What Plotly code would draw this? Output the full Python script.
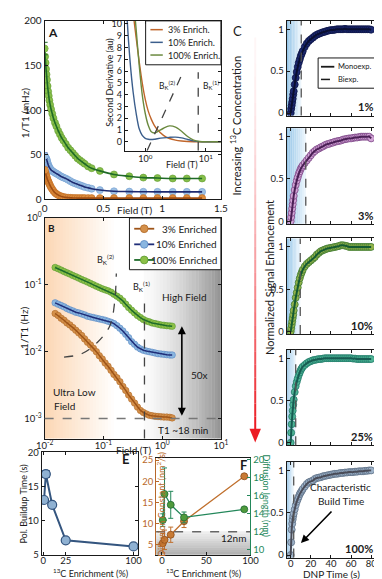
import plotly.graph_objects as go

W, H = 382, 579
FONT = "Lato"
INK = "#1a1a1a"

# ---------------- data ----------------
# A: relaxation rate (mHz) vs field (T)
a_field = [0, 0.004, 0.008, 0.012, 0.016, 0.02, 0.025, 0.03, 0.035, 0.04, 0.047, 0.055,
           0.065, 0.075, 0.088, 0.1, 0.115, 0.13, 0.145, 0.16, 0.18, 0.2, 0.22, 0.24, 0.26,
           0.28, 0.3, 0.32, 0.34, 0.37, 0.4, 0.47, 0.59, 0.72, 0.84, 0.96, 1.09, 1.21, 1.34]
a_rate_100 = [169, 160, 153, 146, 140, 134, 127, 121, 116, 111, 106, 101, 96, 91, 86,
              82, 77, 73, 69, 66, 62, 58, 55, 52, 49, 46, 44, 42, 40, 37, 35, 32, 28, 26,
              24.5, 24, 23.5, 23.5, 23.5]
a_rate_10 = [49, 48, 47, 46, 45, 43.5, 41, 39, 37, 36, 34.5, 33, 32, 31, 30, 29, 28, 26.5,
             25.5, 24.5, 23.5, 22, 20.5, 19, 18, 17, 16, 15, 14, 13, 12, 10.5, 9.2, 8.8, 8.6,
             8.5, 8.5, 8.5, 8.5]
a_rate_3 = [33, 31, 29, 27.5, 25.5, 24, 22, 20.5, 19, 17.5, 15.5, 13.5, 11.5, 9.5, 7.5, 6.2,
            5, 4, 3.3, 2.8, 2.3, 2, 1.8, 1.7, 1.6, 1.5, 1.5, 1.5, 1.5, 1.5, 1.5, 1.5, 1.5,
            1.5, 1.5, 1.5, 1.5, 1.5, 1.5]
a_first_err = [7, 3, 3]  # 100%, 10%, 3%

# A inset: second derivative (au) vs field (T)
inset_field = [0.457, 0.501, 0.562, 0.631, 0.708, 0.794, 0.891, 1.0, 1.12, 1.26, 1.41, 1.58,
               2.0, 2.51, 3.16, 3.98, 5.01, 6.31, 7.94, 10.0, 12.6, 17.8]
inset_d2_3 = [25, 19, 14.5, 11, 8.8, 6.8, 5.0, 3.6, 2.6, 1.9, 1.4, 1.05, 0.55, 0.28, 0.14,
              0.07, 0.03, 0.01, 0, 0, 0, 0]
inset_d2_10 = [15, 10.5, 6.8, 4.2, 2.4, 1.1, 0.55, 0.3, 0.22, 0.2, 0.22, 0.26, 0.33, 0.38,
               0.4, 0.33, 0.2, 0.08, 0.02, 0, 0, 0]
inset_d2_100 = [30, 24, 17, 12.5, 9.5, 6.5, 4.0, 2.4, 1.4, 0.85, 0.75, 0.85, 1.15, 1.35,
                1.25, 0.9, 0.45, 0.15, 0.03, 0, 0, 0]

# B: relaxation rate (Hz) vs field (T), log-log
b_field = [0.0151, 0.0170, 0.0191, 0.0214, 0.0240, 0.0269, 0.0302, 0.0339, 0.0380, 0.0427,
           0.0479, 0.0537, 0.0603, 0.0676, 0.0759, 0.0851, 0.0955, 0.107, 0.120, 0.135,
           0.151, 0.170, 0.191, 0.214, 0.240, 0.269, 0.302, 0.339, 0.380, 0.427,
           0.479, 0.537, 0.603, 0.676, 0.759, 0.851, 0.955, 1.07, 1.20, 1.35, 1.48]
b_rate_100 = [0.182, 0.174, 0.166, 0.158, 0.151, 0.145, 0.138, 0.132, 0.126, 0.120,
              0.115, 0.110, 0.105, 0.100, 0.0955, 0.0912, 0.0871, 0.0841, 0.0813, 0.0776,
              0.0724, 0.0676, 0.0631, 0.0575, 0.0513, 0.0457, 0.0417, 0.0380, 0.0347, 0.0324,
              0.0302, 0.0288, 0.0279, 0.0269, 0.0263, 0.0257, 0.0251, 0.0248, 0.0245, 0.0243,
              0.0240]
b_rate_10 = [0.0537, 0.0513, 0.0490, 0.0468, 0.0442, 0.0422, 0.0407, 0.0389, 0.0380, 0.0367,
             0.0355, 0.0339, 0.0331, 0.0324, 0.0316, 0.0309, 0.0302, 0.0295, 0.0285, 0.0275,
             0.0263, 0.0245, 0.0224, 0.0204, 0.0182, 0.0162, 0.0141, 0.0129, 0.0117, 0.0110,
             0.0105, 0.0102, 0.0100, 0.00977, 0.00955, 0.00933, 0.00923, 0.00912, 0.00902,
             0.00891, 0.00891]
b_rate_3 = [0.0372, 0.0347, 0.0316, 0.0295, 0.0269, 0.0251, 0.0229, 0.0209, 0.0191, 0.0174,
            0.0155, 0.0138, 0.0126, 0.0112, 0.0100, 0.00871, 0.00776, 0.00676, 0.00603, 0.00525,
            0.00457, 0.00407, 0.00355, 0.00302, 0.00263, 0.00224, 0.00195, 0.00170, 0.00148,
            0.00132, 0.00123, 0.00117, 0.00112, 0.00110, 0.00108, 0.00107, 0.00106, 0.00105,
            0.00105, 0.00104, 0.00102]
bk2_field = [0.0214, 0.0427, 0.0794, 0.129, 0.155, 0.166]
bk2_rate = [0.0083, 0.0093, 0.0138, 0.0245, 0.0537, 0.148]
bk1_field = 0.5
t1_floor = 0.001

# E: polarization buildup time
enrich = [1, 3, 10, 25, 100]
buildup_time = [13.0, 16.8, 12.3, 7.1, 6.2]
buildup_err = [0.3, 0.5, 0.3, 0.3, 0.3]

# F: diffusion constant / length
f_enrich = [1, 3, 10, 25, 93]
diff_const = [5.4, 6.2, 7.4, 10.6, 21.2]
diff_const_err = [2.3, 2.3, 1.8, 1.5, 0]
diff_len = [13.3, 16.2, 15.0, 13.6, 14.5]
diff_len_err = [0.7, 2.9, 1.5, 0.6, 0]
diff_len_limit = 12

# C: normalized DNP buildup curves
c_time = [0, 0.5, 1, 1.5, 2, 2.5, 3, 4, 5, 6, 7, 8, 9, 10, 11, 12, 14, 16, 18, 20, 22, 24,
          26, 28, 30, 32, 34, 36, 38, 40, 42, 44, 46, 48, 50, 52, 54, 56, 58, 60, 62, 64, 66,
          68, 70, 72, 74, 76, 78, 80]
c_signal_1 = [0, 0.05, 0.09, 0.13, 0.17, 0.22, 0.26, 0.34, 0.42, 0.49, 0.55, 0.6, 0.64, 0.68,
              0.71, 0.74, 0.79, 0.83, 0.86, 0.88, 0.9, 0.92, 0.935, 0.945, 0.955, 0.965, 0.97,
              0.98, 0.985, 0.99, 0.99, 0.995, 1.0, 1.0, 1.0, 1.0, 1.005, 1.0, 1.0, 1.0, 1.0,
              1.0, 1.0, 1.0, 1.0, 1.0, 1.0, 1.0, 1.0, 0.995]
c_signal_3 = [0, 0.05, 0.1, 0.15, 0.2, 0.25, 0.3, 0.37, 0.43, 0.48, 0.52, 0.56, 0.59, 0.62,
              0.64, 0.66, 0.69, 0.72, 0.75, 0.78, 0.81, 0.83, 0.85, 0.86, 0.875, 0.885, 0.9,
              0.91, 0.915, 0.925, 0.93, 0.94, 0.945, 0.95, 0.955, 0.965, 0.97, 0.975, 0.98,
              0.98, 0.985, 0.99, 0.99, 0.995, 1.0, 1.0, 1.0, 1.0, 1.0, 0.98]
c_signal_10 = [0, 0.04, 0.08, 0.12, 0.16, 0.2, 0.25, 0.32, 0.4, 0.46, 0.52, 0.58, 0.63, 0.67,
               0.7, 0.73, 0.77, 0.8, 0.82, 0.84, 0.86, 0.88, 0.91, 0.93, 0.95, 0.96, 0.97,
               0.98, 0.985, 0.99, 0.995, 1.0, 1.005, 1.01, 1.02, 1.02, 1.015, 1.01, 1.0, 1.0,
               1.0, 1.0, 1.0, 1.0, 1.0, 1.0, 1.0, 1.0, 1.0, 1.0]
c_signal_25 = [0, 0.12, 0.22, 0.31, 0.38, 0.45, 0.51, 0.6, 0.67, 0.72, 0.76, 0.8, 0.83, 0.86,
               0.88, 0.9, 0.92, 0.94, 0.955, 0.965, 0.975, 0.98, 0.985, 0.99, 0.99, 0.995,
               1.0, 1.0, 1.0, 1.0, 1.0, 1.0, 1.0, 1.0, 1.0, 1.0, 1.0, 1.0, 1.0, 1.0, 0.995,
               0.995, 0.99, 0.99, 0.99, 0.99, 0.99, 0.99, 0.99, 0.99]
c_signal_100 = [0, 0.15, 0.3, 0.37, 0.42, 0.46, 0.49, 0.54, 0.59, 0.63, 0.66, 0.69, 0.72,
                0.74, 0.76, 0.78, 0.81, 0.84, 0.86, 0.87, 0.88, 0.9, 0.91, 0.915, 0.92, 0.93,
                0.935, 0.94, 0.945, 0.95, 0.955, 0.96, 0.96, 0.965, 0.97, 0.97, 0.975, 0.975,
                0.98, 0.98, 0.98, 0.985, 0.985, 0.99, 0.99, 0.99, 0.995, 0.995, 1.0, 1.0]
c_labels = ["1%", "3%", "10%", "25%", "100%"]
c_build_mark = [10.5, 15.0, 9.5, 5.0, 3.0]

# ---------------- layout helpers (pixel boxes) ----------------
A_X, A_Y = (29, 214), (5, 188)
IN_X, IN_Y = (113, 214), (5, 138)
B_X, B_Y = (29, 214), (207, 433)
E_X, E_Y = (26, 127), (447, 552)
F_X, F_Y = (146, 245), (453, 552)
C_X = (283, 378)
C_Y = [(5, 102), (115, 213), (228, 326), (342, 440), (457, 555)]

ORANGE_AX = "#b8682a"
GREEN_AX = "#23875a"


def dx(b):
    return [b[0] / W, b[1] / W]


def dy(b):
    return [1 - b[1] / H, 1 - b[0] / H]


def px(x):
    return x / W


def py(y):
    return 1 - y / H


def ax(size=10, **kw):
    d = dict(showline=True, linecolor=INK, linewidth=1, mirror="ticks", ticks="inside",
             ticklen=3, tickcolor=INK, showgrid=False, zeroline=False,
             tickfont=dict(size=size, color=INK, family=FONT))
    d.update(kw)
    return d


def sup10(e):
    return f"10<sup>{e}</sup>"


fig = go.Figure()

# ---- panel A ----
a_sets = [(a_rate_100, "#86bf4a", "#5f9a2e", "#1f6a26", a_first_err[0]),
          (a_rate_10, "#9dc0e4", "#6f9cd0", "#1d2a70", a_first_err[1]),
          (a_rate_3, "#dd8e3e", "#c06a22", "#a04d12", a_first_err[2])]
for ys, fill, edge, ln, err in a_sets:
    fig.add_trace(go.Scatter(x=a_field, y=ys, mode="markers", xaxis="x", yaxis="y",
                             marker=dict(size=7, color=fill, line=dict(width=0.6, color=edge))))
    fig.add_trace(go.Scatter(x=a_field, y=ys, mode="lines", xaxis="x", yaxis="y",
                             line=dict(color=ln, width=1.6, shape="spline")))
    fig.add_trace(go.Scatter(x=a_field[:1], y=ys[:1], mode="markers", xaxis="x", yaxis="y",
                             marker=dict(size=7, color=fill),
                             error_y=dict(type="data", array=[err], color=ln, width=3, thickness=1)))

# ---- inset ----
in_sets = [(inset_d2_3, "#c0652a"), (inset_d2_10, "#3b5e8c"), (inset_d2_100, "#6b8a3f")]
for ys, c in in_sets:
    fig.add_trace(go.Scatter(x=inset_field, y=ys, mode="lines", xaxis="x2", yaxis="y2",
                             line=dict(color=c, width=1.4, shape="spline", smoothing=0.8)))

# ---- panel B ----
b_sets = [(b_rate_3, "#d4904a", "#b06a28", "#9e5418"),
          (b_rate_10, "#8ab6e0", "#5b88c2", "#1f2d78"),
          (b_rate_100, "#8cc048", "#5a9a30", "#1d6b2a")]
for ys, fill, edge, ln in b_sets:
    fig.add_trace(go.Scatter(x=b_field, y=ys, mode="markers", xaxis="x3", yaxis="y3",
                             marker=dict(size=6.5, color=fill, line=dict(width=0.6, color=edge))))
    fig.add_trace(go.Scatter(x=b_field, y=ys, mode="lines", xaxis="x3", yaxis="y3",
                             line=dict(color=ln, width=1.5)))
fig.add_trace(go.Scatter(x=bk2_field, y=bk2_rate, mode="lines", xaxis="x3", yaxis="y3",
                         line=dict(color="#444", width=1.3, dash="dash", shape="spline")))

# ---- panel E ----
fig.add_trace(go.Scatter(x=enrich, y=buildup_time, mode="lines+markers", xaxis="x4", yaxis="y4",
                         line=dict(color="#34557f", width=2),
                         marker=dict(size=9, color="#8fb1d2", line=dict(width=1.2, color="#34557f")),
                         error_y=dict(type="data", array=buildup_err, color="#34557f",
                                      width=4, thickness=1)))

# ---- panel F ----
fig.add_trace(go.Scatter(x=f_enrich, y=diff_const, mode="lines+markers", xaxis="x5", yaxis="y5",
                         line=dict(color="#c0702e", width=1.3),
                         marker=dict(size=7, color="#c87a34", line=dict(width=0.8, color="#8a4a18")),
                         error_y=dict(type="data", array=diff_const_err, color="#c0702e",
                                      width=2.5, thickness=1)))
fig.add_trace(go.Scatter(x=f_enrich, y=diff_len, mode="lines+markers", xaxis="x5", yaxis="y11",
                         line=dict(color=GREEN_AX, width=1.3),
                         marker=dict(size=7, color="#4f9a3c", line=dict(width=0.8, color="#1f6a34")),
                         error_y=dict(type="data", array=diff_len_err, color=GREEN_AX,
                                      width=2.5, thickness=1)))

# ---- panel C ----
c_series = [c_signal_1, c_signal_3, c_signal_10, c_signal_25, c_signal_100]
c_styles = [("#1c2970", "#0c1445", "#0a0f30"),
            ("#d2a4d6", "#7a4484", "#4a1f55"),
            ("#92b24a", "#3d7a34", "#145a32"),
            ("#4fb496", "#1f7a68", "#175c52"),
            ("#9db2c9", "#5d6e84", "#4a4c58")]
for i, ys in enumerate(c_series):
    fill, edge, ln = c_styles[i]
    xa, ya = f"x{6 + i}", f"y{6 + i}"
    fig.add_trace(go.Scatter(x=c_time, y=ys, mode="markers", xaxis=xa, yaxis=ya,
                             marker=dict(size=7, color=fill, line=dict(width=0.8, color=edge))))
    fig.add_trace(go.Scatter(x=c_time, y=ys, mode="lines", xaxis=xa, yaxis=ya,
                             line=dict(color=ln, width=2, shape="spline")))

# ---------------- axes ----------------
layout = dict(
    xaxis=ax(domain=dx(A_X), anchor="y", range=[0, 1.5], tickvals=[0, 0.5, 1, 1.5],
             ticktext=["0", "0.5", "1", "1.5"]),
    yaxis=ax(domain=dy(A_Y), anchor="x", range=[0, 200], tickvals=[0, 50, 100, 150, 200]),
    xaxis2=ax(9, domain=dx(IN_X), anchor="y2", type="log", range=[-0.34, 1.25],
              tickvals=[1, 10], ticktext=[sup10(0), sup10(1)]),
    yaxis2=ax(9, domain=dy(IN_Y), anchor="x2", range=[-0.75, 10.25], dtick=1),
    xaxis3=ax(9.5, domain=dx(B_X), anchor="y3", type="log", range=[-2, 1], ticklabelstandoff=-2,
              tickvals=[0.01, 0.1, 1, 10], ticktext=[sup10(-2), sup10(-1), sup10(0), sup10(1)]),
    yaxis3=ax(9.5, domain=dy(B_Y), anchor="x3", type="log", range=[-3.3, 0],
              tickvals=[0.001, 0.01, 0.1, 1], ticktext=[sup10(-3), sup10(-2), sup10(-1), sup10(0)]),
    xaxis4=ax(9.5, domain=dx(E_X), anchor="y4", range=[-1.5, 105], tickvals=[0, 25, 100],
              ticklabelstandoff=-3),
    yaxis4=ax(9.5, domain=dy(E_Y), anchor="x4", range=[5, 20], tickvals=[5, 10, 15, 20]),
    xaxis5=ax(9.5, domain=dx(F_X), anchor="y5", range=[-6.5, 100], tickvals=[0, 50, 100],
              mirror=True, ticklabelstandoff=-3),
    yaxis5=ax(9.5, domain=dy(F_Y), anchor="x5", range=[2.7, 25.5], tickvals=[5, 10, 15, 20, 25],
              mirror=False, linecolor=ORANGE_AX, tickcolor=ORANGE_AX,
              tickfont=dict(size=9.5, color=ORANGE_AX, family=FONT)),
    yaxis11=ax(9.5, domain=dy(F_Y), anchor="x5", overlaying="y5", side="right",
               range=[9.46, 20.2], tickvals=[10, 12, 14, 16, 18, 20], mirror=False,
               linecolor=GREEN_AX, tickcolor=GREEN_AX,
               tickfont=dict(size=9.5, color=GREEN_AX, family=FONT)),
)
for i in range(5):
    layout[f"xaxis{6 + i}"] = ax(9.5, domain=dx(C_X), anchor=f"y{6 + i}", range=[-4, 86],
                                 tickvals=[0, 20, 40, 60, 80], showticklabels=(i == 4),
                                 ticklabelstandoff=-3)
    layout[f"yaxis{6 + i}"] = ax(9.5, domain=dy(C_Y[i]), anchor=f"x{6 + i}",
                                 range=[-0.03, 1.1], tickvals=[0, 0.5, 1],
                                 ticktext=["0", "0.5", "1"])

# ---------------- shapes ----------------
shapes = []


def mix(c1, c2, t):
    r, g, b = (round(a + (b - a) * t) for a, b in zip(c1, c2))
    return f"rgb({r},{g},{b})"


def bx(p):
    return (p - B_X[0]) / (B_X[1] - B_X[0])


# B: ultra-low-field orange wash
n = 24
for k in range(n):
    x0 = 29 + (105 - 29) * k / n
    x1 = 29 + (105 - 29) * (k + 1) / n
    shapes.append(dict(type="rect", xref="x3 domain", yref="y3 domain", layer="below",
                       x0=bx(x0), x1=bx(x1) + 0.002, y0=0, y1=1, line=dict(width=0),
                       fillcolor=mix((252, 216, 182), (255, 255, 255), k / (n - 1))))
# B: high-field gray wash
for k in range(n):
    x0 = 133 + (B_X[1] - 133) * k / n
    x1 = 133 + (B_X[1] - 133) * (k + 1) / n
    shapes.append(dict(type="rect", xref="x3 domain", yref="y3 domain", layer="below",
                       x0=bx(x0), x1=min(bx(x1) + 0.002, 1), y0=0, y1=1, line=dict(width=0),
                       fillcolor=mix((250, 250, 250), (150, 150, 150), (k / (n - 1)) ** 1.4)))
shapes.append(dict(type="line", xref="x3 domain", yref="y3", x0=0, x1=1, y0=t1_floor, y1=t1_floor,
                   line=dict(color="#777", width=1.3, dash="dash")))
shapes.append(dict(type="line", xref="x3", yref="y3 domain", x0=bk1_field, x1=bk1_field,
                   y0=0, y1=0.64, line=dict(color="#444", width=1.3, dash="dash")))

# inset markers of B_K
shapes.append(dict(type="line", xref="x2", yref="y2", x0=7.5, x1=7.5, y0=-0.75, y1=5.9,
                   line=dict(color="#444", width=1.3, dash="dash")))
shapes.append(dict(type="line", xref="x2", yref="y2", x0=1.07, x1=4.2, y0=-0.75, y1=5.9,
                   line=dict(color="#444", width=1.3, dash="dash")))

# F: below-resolution band
f_lo, f_hi = layout["yaxis11"]["range"]
frac = (diff_len_limit - f_lo) / (f_hi - f_lo)
m = 10
for k in range(m):
    shapes.append(dict(type="rect", xref="x5 domain", yref="y5 domain", layer="below",
                       x0=0, x1=1, y0=frac * k / m, y1=frac * (k + 1) / m + 0.005,
                       line=dict(width=0),
                       fillcolor=mix((178, 178, 178), (238, 238, 238), k / (m - 1))))
shapes.append(dict(type="line", xref="x5 domain", yref="y5 domain", x0=0, x1=1, y0=frac, y1=frac,
                   line=dict(color="#666", width=1.5, dash="dash")))

# C: blue wash up to build mark + dashed marker
for i, mark in enumerate(c_build_mark):
    xa, ya = f"x{6 + i}", f"y{6 + i} domain"
    steps = 10
    for k in range(steps):
        x0 = -4 + (mark + 4) * k / steps
        x1 = -4 + (mark + 4) * (k + 1) / steps
        shapes.append(dict(type="rect", xref=xa, yref=ya, layer="below", x0=x0, x1=x1 + 0.1,
                           y0=0, y1=1, line=dict(width=0),
                           fillcolor=mix((150, 198, 232), (236, 245, 252), k / (steps - 1))))
    shapes.append(dict(type="line", xref=xa, yref=ya, x0=mark, x1=mark, y0=0, y1=1,
                       line=dict(color="#555", width=1.3, dash="dash")))

# red "increasing concentration" arrow
segs = 30
for k in range(segs):
    y0 = 22 + (424 - 22) * k / segs
    y1 = 22 + (424 - 22) * (k + 1) / segs
    a = 0.04 + 0.96 * (k / (segs - 1)) ** 1.6
    shapes.append(dict(type="line", xref="paper", yref="paper", x0=px(250), x1=px(250),
                       y0=py(y0), y1=py(y1), line=dict(color=f"rgba(236,28,36,{a:.3f})", width=2)))
shapes.append(dict(type="path", xref="paper", yref="paper",
                   path=f"M {px(244)},{py(423)} L {px(256)},{py(423)} L {px(250)},{py(437)} Z",
                   fillcolor="rgb(236,28,36)", line=dict(width=0)))


# manual legends
def box(x0, y0, x1, y1):
    shapes.append(dict(type="rect", xref="paper", yref="paper", x0=px(x0), x1=px(x1),
                       y0=py(y1), y1=py(y0), fillcolor="white", line=dict(color=INK, width=1)))


def seg(x0, x1, y, color, dash="solid", w=1.5):
    shapes.append(dict(type="line", xref="paper", yref="paper", x0=px(x0), x1=px(x1),
                       y0=py(y), y1=py(y), line=dict(color=color, width=w, dash=dash)))


def dot(cx, cy, r, fill, edge):
    shapes.append(dict(type="circle", xref="paper", yref="paper", x0=px(cx - r), x1=px(cx + r),
                       y0=py(cy + r), y1=py(cy - r), fillcolor=fill, line=dict(color=edge, width=0.8)))


box(135, 5, 214, 50)
for yy, (_, c) in zip([14, 27, 40], in_sets):
    seg(140, 153, yy, c)
box(118, 207, 214, 260)
for yy, (_, fill, edge, ln) in zip([218, 234, 250], b_sets):
    seg(123, 144, yy, ln, w=1.8)
    dot(133.5, yy, 4, fill, edge)
box(316, 43, 378, 74)
seg(319, 333, 52, INK, w=1.8)
seg(319, 333, 65, INK, dash="dash", w=1.5)

# ---------------- text ----------------
ann = []


def txt(x, y, s, size=10, color=INK, angle=0, xanchor="center"):
    ann.append(dict(x=px(x), y=py(y), xref="paper", yref="paper", text=s, showarrow=False,
                    font=dict(size=size, color=color, family=FONT), textangle=angle,
                    xanchor=xanchor, yanchor="middle"))


txt(38, 17, "<b>A</b>", 12)
txt(123, 199, "Field (T)", 10)
txt(8, 100, "1/T1 (mHz)", 10, angle=-90)
txt(97, 68, "Second Derivative (au)", 9, angle=-90)
txt(173, 152, "Field (T)", 9)
txt(157, 71, "B<sub>K</sub><sup>(2)</sup>", 8.5)
txt(204, 71, "B<sub>K</sub><sup>(1)</sup>", 8.5)
for yy, s in zip([14, 27, 40], ["3% Enrich.", "10% Enrich.", "100% Enrich."]):
    txt(156, yy, s, 9, xanchor="left")

txt(36, 217, "<b>B</b>", 10)
txt(8, 320, "1/T1 (Hz)", 10, angle=-90)
txt(122, 445, "Field (T)", 10)
for yy, s in zip([218, 234, 250], ["3% Enriched", "10% Enriched", "100% Enriched"]):
    txt(212, yy, s, 10, xanchor="right")
txt(93, 250, "B<sub>K</sub><sup>(2)</sup>", 9)
txt(131, 277, "B<sub>K</sub><sup>(1)</sup>", 9)
txt(176, 288, "High Field", 10)
txt(191, 368, "50x", 10)
txt(60, 385, "Ultra Low", 10)
txt(50, 400, "Field", 10)
txt(174, 424, "T1 ~18 min", 10)
ann.append(dict(x=px(173), y=py(318), xref="paper", yref="paper", ax=0, ay=91, text="",
                showarrow=True, arrowhead=2, arrowside="end+start", arrowwidth=1.6,
                arrowsize=1, arrowcolor="black"))

txt(114, 454, "<b>E</b>", 13)
txt(7, 500, "Pol. Buildup Time (s)", 9, angle=-90)
txt(77, 571, "<sup>13</sup>C Enrichment (%)", 9)

txt(238, 460, "<b>F</b>", 13)
txt(151, 500, "Diffusion Constant (nm<sup>2</sup>/s)", 9, color=ORANGE_AX, angle=-90)
txt(262, 492, "Diffusion length (nm)", 9, color=GREEN_AX, angle=90)
txt(196, 571, "<sup>13</sup>C Enrichment (%)", 9)
txt(227, 535, "12nm", 10)

txt(231, 15, "C", 13)
txt(229, 112, "Increasing <sup>13</sup>C Concentration", 11, angle=-90)
txt(265, 268, "Normalized Signal Enhancement", 11, angle=-90)
txt(330, 572, "DNP Time (s)", 10)
for i, lab in enumerate(c_labels):
    txt(376, C_Y[i][1] - 9, f"<b>{lab}</b>", 11, xanchor="right")
txt(335, 52, "Monoexp.", 7.5, xanchor="left")
txt(335, 65, "Biexp.", 7.5, xanchor="left")
txt(340, 483, "Characteristic", 10)
txt(340, 497, "Build Time", 10)
ann.append(dict(x=px(298), y=py(540), xref="paper", yref="paper", ax=32, ay=-33, text="",
                showarrow=True, arrowhead=2, arrowwidth=1.6, arrowsize=1, arrowcolor="black"))

fig.update_layout(
    **layout,
    shapes=shapes,
    annotations=ann,
    showlegend=False,
    width=W, height=H, autosize=False,
    margin=dict(l=0, r=0, t=0, b=0),
    paper_bgcolor="white", plot_bgcolor="white",
    font=dict(family=FONT, color=INK),
)

fig.write_html("out.html")
